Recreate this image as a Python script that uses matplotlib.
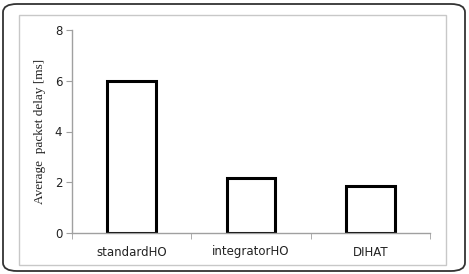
import matplotlib
matplotlib.use("Agg")
import matplotlib.pyplot as plt
from matplotlib.patches import FancyBboxPatch, Rectangle

categories = ["standardHO", "integratorHO", "DIHAT"]
delays = [6.0, 2.17, 1.86]
y_ticks = [0, 2, 4, 6, 8]

W, H = 469, 274
fig = plt.figure(figsize=(W / 100, H / 100), dpi=100)
fig.patch.set_facecolor("white")

# outer rounded frame
fig.patches.append(FancyBboxPatch((3 / W, 3 / H), 462 / W, 267 / H,
                                  boxstyle="round,pad=0,rounding_size=0.03",
                                  transform=fig.transFigure, fill=False,
                                  edgecolor="#333333", linewidth=1.3))
# inner chart area frame
fig.patches.append(Rectangle((19 / W, 9 / H), 427 / W, 250 / H,
                             transform=fig.transFigure, fill=False,
                             edgecolor="#c8c8c8", linewidth=1.0))

ax = fig.add_axes([72 / W, 41 / H, 358 / W, 203 / H])
x = [i + 0.5 for i in range(len(categories))]
ax.bar(x, delays, width=0.41, facecolor="white", edgecolor="black", linewidth=2.2)

ax.set_xlim(0, len(categories))
ax.set_ylim(0, 8)
ax.set_yticks(y_ticks)
ax.set_xticks(x)
ax.set_xticklabels(categories)
ax.set_xticks(range(len(categories) + 1), minor=True)
ax.tick_params(axis="x", which="major", length=0, pad=9, labelsize=8.5, colors="#222222")
ax.tick_params(axis="x", which="minor", length=4, direction="out", color="#a0a0a0")
ax.tick_params(axis="y", length=4, direction="out", color="#a0a0a0", labelsize=8.5,
               labelcolor="#222222", pad=3)

for side in ("top", "right"):
    ax.spines[side].set_visible(False)
for side in ("left", "bottom"):
    ax.spines[side].set_color("#a0a0a0")
    ax.spines[side].set_linewidth(1.0)

ax.set_ylabel("Average  packet delay [ms]", family="Liberation Serif", fontsize=9.5,
              color="#222222", labelpad=6)

fig.savefig("out.png", dpi=100, facecolor="white")
